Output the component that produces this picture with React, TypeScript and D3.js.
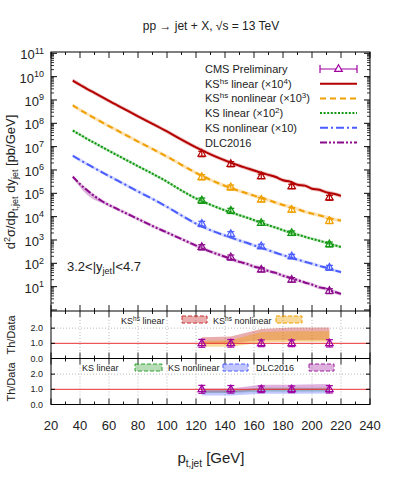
import React from "react";
import * as d3 from "d3";

// pT grid of the theory curves [GeV]
const ptGrid = [35, 40, 45, 50, 55, 60, 70, 80, 90, 100, 110, 120, 130, 140, 150, 155, 160, 165, 170, 175, 180, 185, 190, 195, 200, 205, 210, 215, 220];

// predictions d2sigma/dpt dy [pb/GeV], before the plotting factors
const ksHsLinear = [6.76e5, 4.47e5, 2.95e5, 2.0e5, 1.35e5, 9.12e4, 4.27e4, 2.0e4, 9.55e3, 4.47e3, 2.0e3, 933, 468, 257, 151, 120, 95.5, 75.9, 61.7, 50.1, 36.3, 31.6, 23.4, 21.4, 15.8, 14.1, 11.0, 9.55, 7.76];
const ksHsNonlinear = [5.89e5, 3.8e5, 2.51e5, 1.66e5, 1.12e5, 7.59e4, 3.55e4, 1.66e4, 7.94e3, 3.72e3, 1.66e3, 759, 380, 209, 126, 100, 79.4, 63.1, 51.3, 39.8, 31.6, 26.3, 20.9, 16.2, 13.5, 11.5, 9.33, 7.76, 6.76];
const ksLinear = [4.9e5, 3.24e5, 2.14e5, 1.45e5, 9.77e4, 6.61e4, 3.09e4, 1.45e4, 6.92e3, 3.16e3, 1.32e3, 603, 324, 186, 115, 91.2, 70.8, 55.0, 42.7, 33.9, 26.3, 20.9, 17.0, 13.8, 11.2, 9.33, 7.59, 6.17, 5.01];
const ksNonlinear = [4.07e5, 2.69e5, 1.78e5, 1.2e5, 8.13e4, 5.5e4, 2.57e4, 1.2e4, 5.75e3, 2.63e3, 1.12e3, 501, 263, 155, 95.5, 75.9, 58.9, 45.7, 36.3, 28.2, 22.4, 17.8, 14.5, 11.7, 9.55, 7.76, 6.46, 5.13, 4.17];
const dlc2016 = [5.13e5, 2.51e5, 1.35e5, 7.59e4, 4.68e4, 3.16e4, 1.58e4, 7.94e3, 3.98e3, 2.09e3, 1.1e3, 575, 316, 191, 115, 95.5, 72.4, 61.7, 46.8, 38.9, 29.5, 24.0, 19.1, 15.1, 12.3, 9.33, 8.13, 6.17, 4.9];

// DLC2016 band opens up at low pT
const dlcBandPt = [35, 40, 45, 50, 55, 60];
const dlcBandLow = [5.0e5, 1.8e5, 8.5e4, 5.2e4, 3.9e4, 2.8e4];

// CMS Preliminary, 3.2<|y|<4.7
const cmsPt = [124, 144, 165, 186, 212];
const cmsVal = [500, 182, 54, 20, 6.6];
const cmsErr = [0.26, 0.25, 0.22, 0.22, 0.24]; // relative

// Th/Data bands
const rKsHsLinLo = [1.0, 1.0, 1.2, 1.2, 1.2];
const rKsHsLinHi = [1.4, 1.45, 1.95, 2.05, 2.05];
const rKsHsNonLo = [0.78, 0.78, 1.05, 1.1, 1.1];
const rKsHsNonHi = [1.15, 1.2, 1.75, 1.8, 1.8];
const rKsLinLo = [0.75, 0.75, 0.85, 0.85, 0.85];
const rKsLinHi = [0.95, 0.95, 1.1, 1.1, 1.1];
const rKsNonLo = [0.6, 0.6, 0.7, 0.7, 0.72];
const rKsNonHi = [0.85, 0.85, 0.95, 0.95, 0.95];
const rDlcLo = [0.8, 0.8, 0.95, 0.95, 0.95];
const rDlcHi = [1.05, 1.05, 1.3, 1.3, 1.35];

const FONT = "Liberation Sans, Arial, Helvetica, sans-serif";
const CMS_COL = "#a000a0";

const series = [
  { id: "kshslin", vals: ksHsLinear, scale: 1e4, color: "#b40000", band: "#d04848", dash: "none", bw: 1.22 },
  { id: "kshsnon", vals: ksHsNonlinear, scale: 1e3, color: "#f0a000", band: "#f5b030", dash: "6,4", bw: 1.2 },
  { id: "kslin", vals: ksLinear, scale: 1e2, color: "#109810", band: "#40b040", dash: "2,1.6", bw: 1.16 },
  { id: "ksnon", vals: ksNonlinear, scale: 10, color: "#4a5cff", band: "#8090ff", dash: "8,3,2,3", bw: 1.18 },
  { id: "dlc", vals: dlc2016, scale: 1, color: "#8c0a8c", band: "#b050b0", dash: "7,2,2,2,2,2", bw: 1.2 },
];

const x = d3.scaleLinear().domain([20, 240]).range([51, 370]);
const y = d3.scaleLog().domain([Math.pow(10, -0.043), Math.pow(10, 11.056)]).range([311, 52]);
const yr1 = d3.scaleLinear().domain([0, 3.13]).range([358.5, 311]);
const yr2 = d3.scaleLinear().domain([0, 3.03]).range([404.5, 358.5]);

const X0 = 51, X1 = 370, YT = 52, YB = 311, YM = 358.5, YR = 404.5;

const tri = (cx: number, cy: number) =>
  `M${cx},${cy - 4.2}L${cx + 3.8},${cy + 2.4}L${cx - 3.8},${cy + 2.4}Z`;

function Marker({ cx, cy, lo, hi, color }: any) {
  return (
    <g stroke={color} fill="none" strokeWidth={1.2}>
      <line x1={cx} x2={cx} y1={lo} y2={hi} />
      <line x1={cx - 3.5} x2={cx + 3.5} y1={lo} y2={lo} />
      <line x1={cx - 3.5} x2={cx + 3.5} y1={hi} y2={hi} />
      <path d={tri(cx, cy)} fill="white" fillOpacity={0} />
    </g>
  );
}

export default function App() {
  const line = d3
    .line<[number, number]>()
    .x((d) => x(d[0]))
    .y((d) => y(d[1]))
    .curve(d3.curveMonotoneX);
  const band = d3
    .area<[number, number, number]>()
    .x((d) => x(d[0]))
    .y0((d) => y(d[1]))
    .y1((d) => y(d[2]))
    .curve(d3.curveMonotoneX);

  const xTicks = d3.range(20, 241, 10);
  const majorX = (v: number) => v % 20 === 0;
  const decades = d3.range(0, 12);
  const minorY: number[] = [];
  decades.slice(0, 11).forEach((d) => {
    for (let k = 2; k <= 9; k++) minorY.push(k * Math.pow(10, d));
  });

  const ratioBand = (scaleR: any, lo: number[], hi: number[]) =>
    d3
      .area<number>()
      .x((_, i) => x(cmsPt[i]))
      .y0((_, i) => scaleR(lo[i]))
      .y1((_, i) => scaleR(hi[i]))(cmsPt) as string;

  const ratioPanel = (scaleR: any, top: number, bottom: number, bands: any[]) => (
    <g>
      {d3.range(40, 221, 20).map((v) => (
        <line key={"vg" + v} x1={x(v)} x2={x(v)} y1={top} y2={bottom} stroke="#aaa" strokeWidth={0.8} strokeDasharray="1,2" />
      ))}
      <line x1={X0} x2={X1} y1={scaleR(2)} y2={scaleR(2)} stroke="#aaa" strokeWidth={0.8} strokeDasharray="1,2" />
      {bands.map((b, i) => (
        <path key={i} d={ratioBand(scaleR, b.lo, b.hi)} fill={b.fill} fillOpacity={b.op} stroke="none" />
      ))}
      <line x1={X0} x2={X1} y1={scaleR(1)} y2={scaleR(1)} stroke="#e83030" strokeWidth={1} />
      {cmsPt.map((p, i) => (
        <Marker key={p} cx={x(p)} cy={scaleR(1)} lo={scaleR(1 - cmsErr[i])} hi={scaleR(1 + cmsErr[i])} color={CMS_COL} />
      ))}
      {[0, 1, 2].map((v) => (
        <g key={"yt" + v}>
          <line x1={X0} x2={X0 + 4} y1={scaleR(v)} y2={scaleR(v)} stroke="black" />
          <line x1={X1 - 4} x2={X1} y1={scaleR(v)} y2={scaleR(v)} stroke="black" />
          <text x={43} y={scaleR(v) + 3} fontSize={9} textAnchor="end" fill="#222">
            {v.toFixed(1)}
          </text>
        </g>
      ))}
    </g>
  );

  const swatch = (x0: number, y0: number, w: number, fill: string, stroke: string, op: number) => (
    <rect x={x0} y={y0} width={w} height={7} fill={fill} fillOpacity={op} stroke={stroke} strokeWidth={1} strokeDasharray="4,2" />
  );

  const legendRows = [
    { label: [["CMS Preliminary", 0]] },
    { label: [["KS", 0], ["hs", 1], [" linear (×10", 0], ["4", 1], [")", 0]] },
    { label: [["KS", 0], ["hs", 1], [" nonlinear (×10", 0], ["3", 1], [")", 0]] },
    { label: [["KS linear (×10", 0], ["2", 1], [")", 0]] },
    { label: [["KS nonlinear (×10)", 0]] },
    { label: [["DLC2016", 0]] },
  ];

  const supText = (parts: any[], fs: number, sfs: number) => {
    let up = false;
    return parts.map(([t, s]: any, i: number) => {
      let dy = 0;
      if (s && !up) { dy = -fs * 0.38; up = true; }
      else if (!s && up) { dy = fs * 0.38; up = false; }
      return (
        <tspan key={i} dy={dy} fontSize={s ? sfs : fs}>
          {t}
        </tspan>
      );
    });
  };

  return (
    <svg width={399} height={478} style={{ position: "absolute", left: 0, top: 0, background: "white" }} fontFamily={FONT}>
      {/* title */}
      <text x={211} y={30} fontSize={12} textAnchor="middle" fill="#222">
        pp → jet + X, √s = 13 TeV
      </text>

      {/* main panel bands */}
      {series.map((s) => {
        const pts = ptGrid.map((p, i) => [p, (s.vals[i] * s.scale) / s.bw, s.vals[i] * s.scale * s.bw] as [number, number, number]);
        return <path key={"b" + s.id} d={band(pts) as string} fill={s.band} fillOpacity={0.35} />;
      })}
      <path
        d={band(dlcBandPt.map((p, i) => [p, dlcBandLow[i], dlc2016[i] / 1.05] as [number, number, number])) as string}
        fill="#b050b0"
        fillOpacity={0.4}
      />
      {/* main panel curves */}
      {series.map((s) => (
        <path
          key={"l" + s.id}
          d={line(ptGrid.map((p, i) => [p, s.vals[i] * s.scale] as [number, number])) as string}
          fill="none"
          stroke={s.color}
          strokeWidth={2}
          strokeDasharray={s.dash}
        />
      ))}
      {/* data points */}
      {series.map((s) =>
        cmsPt.map((p, i) => {
          const v = cmsVal[i] * s.scale;
          return (
            <Marker key={s.id + p} cx={x(p)} cy={y(v)} lo={y(v * (1 - cmsErr[i]))} hi={y(v * (1 + cmsErr[i]))} color={s.color} />
          );
        })
      )}

      {/* legend */}
      {legendRows.map((r, i) => {
        const by = 73 + i * 14.7;
        const ly = by - 4;
        return (
          <g key={"lg" + i}>
            <text x={205} y={by} fontSize={11} fill="#222">
              {supText(r.label, 11, 8)}
            </text>
            {i === 0 ? (
              <g stroke={CMS_COL} strokeWidth={1.2} fill="none">
                <line x1={320} x2={357} y1={ly} y2={ly} />
                <line x1={320} x2={320} y1={ly - 4} y2={ly + 4} />
                <line x1={357} x2={357} y1={ly - 4} y2={ly + 4} />
                <path d={tri(338.5, ly)} fill="white" />
              </g>
            ) : (
              <line x1={320} x2={357} y1={ly} y2={ly} stroke={series[i - 1].color} strokeWidth={2} strokeDasharray={series[i - 1].dash} />
            )}
          </g>
        );
      })}

      <text x={67} y={271} fontSize={13} fill="#222">
        3.2&lt;|y<tspan dy={3} fontSize={9}>jet</tspan>
        <tspan dy={-3}>|&lt;4.7</tspan>
      </text>

      {/* main axes ticks */}
      {decades.map((d) => (
        <g key={"dy" + d}>
          <line x1={X0} x2={X0 + 6} y1={y(Math.pow(10, d))} y2={y(Math.pow(10, d))} stroke="black" />
          <line x1={X1 - 6} x2={X1} y1={y(Math.pow(10, d))} y2={y(Math.pow(10, d))} stroke="black" />
          {d > 0 && (
            <text x={44} y={y(Math.pow(10, d)) + 6} fontSize={13} textAnchor="end" fill="#222">
              10<tspan dy={-5.5} fontSize={9}>{d}</tspan>
            </text>
          )}
        </g>
      ))}
      {minorY.map((v) => (
        <g key={"my" + v} stroke="black" strokeWidth={0.8}>
          <line x1={X0} x2={X0 + 3} y1={y(v)} y2={y(v)} />
          <line x1={X1 - 3} x2={X1} y1={y(v)} y2={y(v)} />
        </g>
      ))}
      {xTicks.map((v) => {
        const l = majorX(v) ? 6 : 3;
        return (
          <g key={"xt" + v} stroke="black" strokeWidth={0.9}>
            <line x1={x(v)} x2={x(v)} y1={YT} y2={YT + l} />
            <line x1={x(v)} x2={x(v)} y1={YB - l} y2={YB + l} />
            <line x1={x(v)} x2={x(v)} y1={YM - l} y2={YM + l} />
            <line x1={x(v)} x2={x(v)} y1={YR - l} y2={YR} />
          </g>
        );
      })}

      {/* ratio panels */}
      {ratioPanel(yr1, YB, YM, [
        { lo: rKsHsLinLo, hi: rKsHsLinHi, fill: "#c83232", op: 0.4 },
        { lo: rKsHsNonLo, hi: rKsHsNonHi, fill: "#f0a000", op: 0.4 },
      ])}
      {ratioPanel(yr2, YM, YR, [
        { lo: rKsLinLo, hi: rKsLinHi, fill: "#30a030", op: 0.35 },
        { lo: rKsNonLo, hi: rKsNonHi, fill: "#5060ff", op: 0.35 },
        { lo: rDlcLo, hi: rDlcHi, fill: "#a020a0", op: 0.35 },
      ])}

      {/* ratio legends */}
      <g fontSize={9} fill="#222">
        <text x={121} y={324}>
          {supText([["KS", 0], ["hs", 1], [" linear", 0]], 9, 6.5)}
        </text>
        <text x={213} y={324}>
          {supText([["KS", 0], ["hs", 1], [" nonlinear", 0]], 9, 6.5)}
        </text>
        <text x={82} y={371}>KS linear</text>
        <text x={168} y={371}>KS nonlinear</text>
        <text x={256} y={371}>DLC2016</text>
      </g>
      {swatch(182, 316, 25, "#c83232", "#c83232", 0.4)}
      {swatch(276, 316, 26, "#f0a000", "#f0a000", 0.4)}
      {swatch(135, 364, 27, "#30a030", "#30a030", 0.35)}
      {swatch(223, 364, 25, "#5060ff", "#5060ff", 0.35)}
      {swatch(309, 364, 25, "#a020a0", "#a020a0", 0.35)}

      {/* frames */}
      <g stroke="black" strokeWidth={1} fill="none">
        <rect x={X0} y={YT} width={X1 - X0} height={YR - YT} />
        <line x1={X0} x2={X1} y1={YB} y2={YB} />
        <line x1={X0} x2={X1} y1={YM} y2={YM} />
      </g>

      {/* x tick labels */}
      {d3.range(20, 241, 20).map((v) => (
        <text key={"xl" + v} x={x(v)} y={430} fontSize={13} textAnchor="middle" fill="#222">
          {v}
        </text>
      ))}
      <text x={211} y={463} fontSize={15} textAnchor="middle" fill="#222">
        p<tspan dy={4} fontSize={10}>t,jet</tspan>
        <tspan dy={-4}> [GeV]</tspan>
      </text>

      {/* y titles */}
      <text transform="translate(14.5,182) rotate(-90)" fontSize={13} textAnchor="middle" fill="#222">
        d<tspan dy={-5} fontSize={9}>2</tspan>
        <tspan dy={5}>σ/dp</tspan>
        <tspan dy={3.5} fontSize={9}>t,jet</tspan>
        <tspan dy={-3.5}> dy</tspan>
        <tspan dy={3.5} fontSize={9}>jet</tspan>
        <tspan dy={-3.5}> [pb/GeV]</tspan>
      </text>
      <text transform="translate(15,335) rotate(-90)" fontSize={11} textAnchor="middle" fill="#222">
        Th/Data
      </text>
      <text transform="translate(15,382) rotate(-90)" fontSize={11} textAnchor="middle" fill="#222">
        Th/Data
      </text>
    </svg>
  );
}
